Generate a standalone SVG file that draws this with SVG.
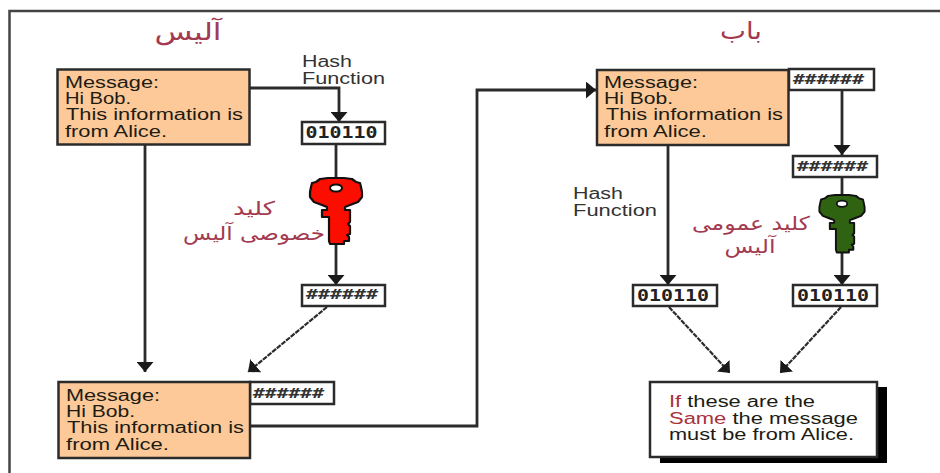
<svg xmlns="http://www.w3.org/2000/svg" width="940" height="473" viewBox="0 0 940 473">
<style>
.msg{fill:#fdc998;stroke:#2b2b2b;stroke-width:2.5}
.box{fill:#fff;stroke:#2b2b2b;stroke-width:2.5}
.t{font-family:"Liberation Sans",Arial,sans-serif;font-size:16px;fill:#1c1c14}
.lbl{font-family:"Liberation Sans",Arial,sans-serif;font-size:16px;fill:#333}
.bin{font-family:"DejaVu Sans Mono",monospace;font-weight:bold;font-size:15px;fill:#222}
.hash{font-family:"DejaVu Sans Mono",monospace;font-weight:bold;font-style:italic;font-size:14px;fill:#333}
.fa{font-family:"DejaVu Sans",sans-serif;fill:#a33a50;text-anchor:middle}
.red{fill:#a8323c}
#connectors path{fill:none;stroke:#2b2b2b;stroke-width:2.8}
#connectors path.d{stroke-width:2.2;stroke-dasharray:5 1}
</style>
<defs>
<marker id="ah" markerUnits="userSpaceOnUse" viewBox="0 0 10 17" refX="10" refY="8.5" markerWidth="10" markerHeight="17" orient="auto"><path d="M0,0 L10,8.5 L0,17 Z" fill="#1a1a1a"/></marker>
<g id="key" stroke="#111" stroke-width="2.2" stroke-linejoin="round">
<path d="M-8,0 L8,0 L16,1 L20,4 L24,5 L25,9 L26,14 L26,19 L22,24 L14,27 L9,29 L9,32 L14,32 L14,44 L12,46 L14,48 L14,56 L11,57 L13,59 L13,63 L8,63 L8,66 L-6,66 L-7,63 L-7,39 L-14,39 L-14,32 L-9,32 L-9,29 L-14,27 L-22,24 L-26,19 L-26,14 L-25,9 L-24,5 L-20,4 L-16,1 Z"/>
<ellipse cx="0" cy="10" rx="6" ry="3.6" fill="#fff" stroke-width="2"/>
</g>
</defs>
<rect width="940" height="473" fill="#fff"/>
<path id="frame" d="M9.5,473 V11 H940" fill="none" stroke="#444" stroke-width="2.5"/>
<g id="connectors">
<path d="M250,88 H339 V122" marker-end="url(#ah)"/>
<path d="M336,144 V180"/>
<path d="M336,242 V285" marker-end="url(#ah)"/>
<path class="d" d="M327,307 L248,372" marker-end="url(#ah)"/>
<path d="M145,144 V372" marker-end="url(#ah)"/>
<path d="M250,426 H477 V90 H596" marker-end="url(#ah)"/>
<path d="M842,90 V155" marker-end="url(#ah)"/>
<path d="M842,177 V197"/>
<path d="M842,251 V285" marker-end="url(#ah)"/>
<path d="M668,145 V285" marker-end="url(#ah)"/>
<path class="d" d="M669,307 L730,373" marker-end="url(#ah)"/>
<path class="d" d="M841,307 L780,373" marker-end="url(#ah)"/>
</g>
<g id="title-alice"><text class="fa" x="188" y="40" font-size="24" textLength="67" lengthAdjust="spacingAndGlyphs">آلیس</text></g>
<g id="title-bob"><text class="fa" x="741" y="39" font-size="24" textLength="42" lengthAdjust="spacingAndGlyphs">باب</text></g>
<g id="hash-label-1"><text class="lbl" x="302" y="67" textLength="50" lengthAdjust="spacingAndGlyphs">Hash</text><text class="lbl" x="302" y="84" textLength="83" lengthAdjust="spacingAndGlyphs">Function</text></g>
<g id="hash-label-2"><text class="lbl" x="573" y="199" textLength="50" lengthAdjust="spacingAndGlyphs">Hash</text><text class="lbl" x="573" y="216" textLength="84" lengthAdjust="spacingAndGlyphs">Function</text></g>
<g id="msg-alice"><rect class="msg" x="57.5" y="69.5" width="192" height="75"/>
<text class="t" x="65" y="88" textLength="94" lengthAdjust="spacingAndGlyphs">Message:</text>
<text class="t" x="65" y="104" textLength="66" lengthAdjust="spacingAndGlyphs">Hi Bob.</text>
<text class="t" x="66" y="120" textLength="177" lengthAdjust="spacingAndGlyphs">This information is</text>
<text class="t" x="65" y="137" textLength="102" lengthAdjust="spacingAndGlyphs">from Alice.</text></g>
<g id="bin-alice"><rect class="box" x="302" y="122" width="83" height="22"/><text class="bin" x="305.500" y="138" textLength="72" lengthAdjust="spacingAndGlyphs">010110</text></g>
<g id="key-red"><use href="#key" transform="translate(336,178)" fill="#fb0d00"/></g>
<g id="label-private"><text class="fa" x="254" y="215" font-size="19" textLength="42" lengthAdjust="spacingAndGlyphs">کلید</text><text class="fa" x="254" y="240" font-size="19" textLength="142" lengthAdjust="spacingAndGlyphs">خصوصی آلیس</text></g>
<g id="hash-alice"><rect class="box" x="302" y="285" width="83" height="21"/><text class="hash" x="306" y="299" textLength="72" lengthAdjust="spacingAndGlyphs">######</text></g>
<g id="hash-attached"><rect class="box" x="250" y="382" width="84" height="22"/><text class="hash" x="253" y="398" textLength="71" lengthAdjust="spacingAndGlyphs">######</text></g>
<g id="msg-signed"><rect class="msg" x="58.5" y="382" width="191.500" height="76"/>
<text class="t" x="66" y="401" textLength="94" lengthAdjust="spacingAndGlyphs">Message:</text>
<text class="t" x="66" y="417" textLength="69" lengthAdjust="spacingAndGlyphs">Hi Bob.</text>
<text class="t" x="67" y="433" textLength="177" lengthAdjust="spacingAndGlyphs">This information is</text>
<text class="t" x="66" y="450" textLength="103" lengthAdjust="spacingAndGlyphs">from Alice.</text></g>
<g id="hash-bob"><rect class="box" x="789" y="69" width="85" height="21"/><text class="hash" x="793" y="84" textLength="71" lengthAdjust="spacingAndGlyphs">######</text></g>
<g id="msg-bob"><rect class="msg" x="597" y="70" width="191.500" height="75"/>
<text class="t" x="604" y="88" textLength="94" lengthAdjust="spacingAndGlyphs">Message:</text>
<text class="t" x="604" y="104" textLength="69" lengthAdjust="spacingAndGlyphs">Hi Bob.</text>
<text class="t" x="606" y="120" textLength="177" lengthAdjust="spacingAndGlyphs">This information is</text>
<text class="t" x="604" y="137" textLength="103" lengthAdjust="spacingAndGlyphs">from Alice.</text></g>
<g id="hash-bob-2"><rect class="box" x="793" y="156" width="84" height="21"/><text class="hash" x="797" y="171" textLength="71" lengthAdjust="spacingAndGlyphs">######</text></g>
<g id="key-green"><use href="#key" transform="translate(842,195) scale(.87)" fill="#2f6312"/></g>
<g id="label-public"><text class="fa" x="751" y="230" font-size="19" textLength="118" lengthAdjust="spacingAndGlyphs">کلید عمومی</text><text class="fa" x="750" y="253" font-size="19" textLength="51" lengthAdjust="spacingAndGlyphs">آلیس</text></g>
<g id="bin-bob-1"><rect class="box" x="633" y="285" width="84" height="21"/><text class="bin" x="637" y="301" textLength="72" lengthAdjust="spacingAndGlyphs">010110</text></g>
<g id="bin-bob-2"><rect class="box" x="793" y="285" width="84" height="21"/><text class="bin" x="797" y="301" textLength="72" lengthAdjust="spacingAndGlyphs">010110</text></g>
<g id="result"><rect x="660" y="387" width="227" height="76" fill="#000"/><rect class="box" x="650" y="382" width="227" height="75"/>
<text class="t" x="669" y="407" textLength="146" lengthAdjust="spacingAndGlyphs"><tspan class="red">If</tspan> these are the</text>
<text class="t" x="669" y="424" textLength="189" lengthAdjust="spacingAndGlyphs"><tspan class="red">Same</tspan> the message</text>
<text class="t" x="669" y="440" textLength="185" lengthAdjust="spacingAndGlyphs">must be from Alice.</text></g>
</svg>
